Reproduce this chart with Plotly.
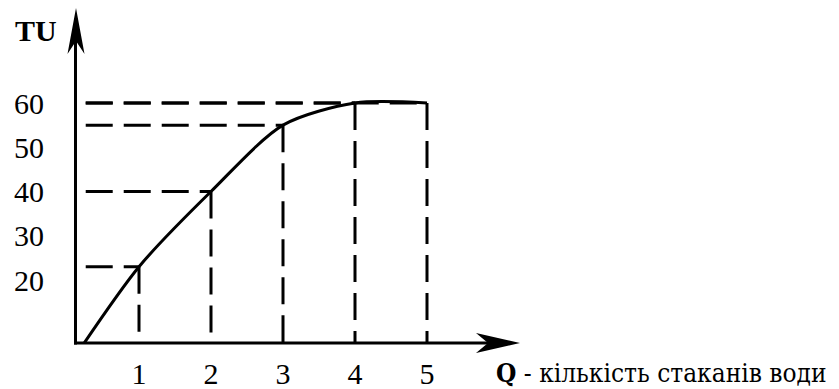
import plotly.graph_objects as go

# Total utility of drinking water
Q = [0, 1, 2, 3, 4, 5]
TU = [0, 23, 40, 55, 60, 60]
X_TICKS = [1, 2, 3, 4, 5]
Y_TICKS = [20, 30, 40, 50, 60]
X_LABEL = "<b>Q</b> - кількість стаканів води"
Y_LABEL = "<b>TU</b>"

W, H = 839, 389
# plot-area box in pixels
L, R, T, B = 76, 530, 5, 343
X_RANGE = [0.125, 6.4306]
Y_RANGE = [5.763, 82.15]
GUIDE_START = 0.26
FONT = "Liberation Serif, DejaVu Serif, serif"
LABEL_FONT = "DejaVu Serif Condensed, DejaVu Serif, serif"
INK = "black"


def px_x(p):
    return (p - L) / (R - L)


def px_y(p):
    return (B - p) / (B - T)


fig = go.Figure()

# dashed guides from each point to both axes
for q, u in zip(Q[1:], TU[1:]):
    fig.add_trace(go.Scatter(
        x=[GUIDE_START, q], y=[u, u], mode="lines",
        line=dict(color=INK, width=3, dash="27px,11px"),
        hoverinfo="skip", showlegend=False))
    fig.add_trace(go.Scatter(
        x=[q, q], y=[u, Y_RANGE[0]], mode="lines",
        line=dict(color=INK, width=3, dash="27px,11px"),
        hoverinfo="skip", showlegend=False))

# utility curve
fig.add_trace(go.Scatter(
    x=Q, y=TU, mode="lines",
    line=dict(color=INK, width=3, shape="spline", smoothing=0.8),
    showlegend=False))

shapes = [
    dict(type="line", xref="paper", yref="paper",
         x0=px_x(75.5), x1=px_x(75.5), y0=px_y(344.5), y1=px_y(40),
         line=dict(color=INK, width=3)),
    dict(type="path", xref="paper", yref="paper",
         path=(f"M {px_x(76)},{px_y(8)} L {px_x(84.5)},{px_y(54)} "
               f"L {px_x(76)},{px_y(41)} L {px_x(67.5)},{px_y(54)} Z"),
         fillcolor=INK, line=dict(width=0)),
    dict(type="line", xref="paper", yref="paper",
         x0=px_x(74), x1=px_x(489), y0=px_y(343), y1=px_y(343),
         line=dict(color=INK, width=3)),
    dict(type="path", xref="paper", yref="paper",
         path=(f"M {px_x(520)},{px_y(343)} L {px_x(476)},{px_y(333)} "
               f"L {px_x(488)},{px_y(343)} L {px_x(476)},{px_y(353)} Z"),
         fillcolor=INK, line=dict(width=0)),
]

annotations = [
    dict(text=Y_LABEL, xref="paper", yref="paper", x=px_x(36), y=px_y(30),
         xanchor="center", yanchor="middle", showarrow=False,
         font=dict(family=FONT, size=30, color=INK)),
    dict(text=X_LABEL, xref="paper", yref="paper", x=px_x(494), y=px_y(373),
         xanchor="left", yanchor="middle", showarrow=False,
         font=dict(family=LABEL_FONT, size=26, color=INK)),
]

fig.update_layout(
    width=W, height=H,
    margin=dict(l=L, r=W - R, t=T, b=H - B, pad=0, autoexpand=False),
    paper_bgcolor="white", plot_bgcolor="white",
    shapes=shapes, annotations=annotations,
    font=dict(family=FONT, size=30, color=INK),
    xaxis=dict(range=X_RANGE, tickvals=X_TICKS, ticktext=[str(v) for v in X_TICKS],
               showgrid=False, zeroline=False, showline=False, ticks="",
               ticklabelstandoff=10, automargin=False),
    yaxis=dict(range=Y_RANGE, tickvals=Y_TICKS, ticktext=[str(v) for v in Y_TICKS],
               showgrid=False, zeroline=False, showline=False, ticks="",
               ticklabelstandoff=31, automargin=False),
)

fig.write_html("out.html")
